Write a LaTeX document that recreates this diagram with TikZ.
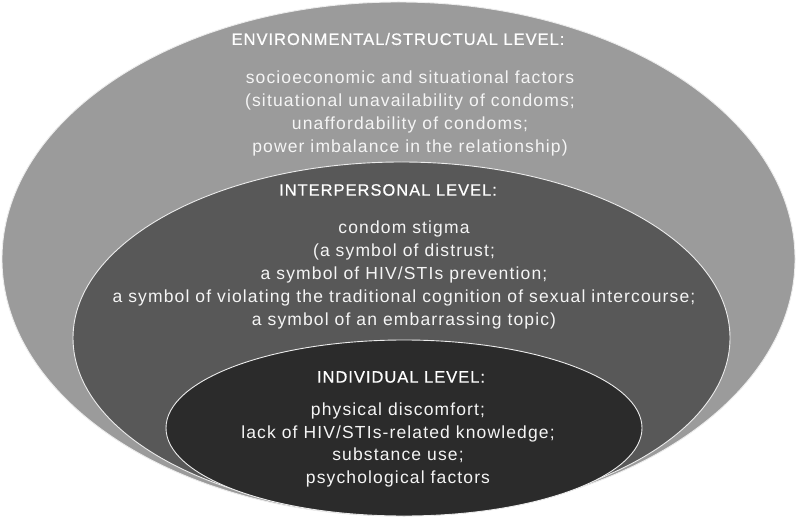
\documentclass[tikz,border=0pt]{standalone}
\usepackage{fontspec}
\setmainfont{Liberation Sans}
\newfontfamily\bodyfont[LetterSpace=6.5]{Liberation Sans}
\newfontfamily\hdfont[FakeBold=0.6,LetterSpace=6]{Liberation Sans}
\begin{document}
\begin{tikzpicture}[x=1pt,y=-1pt]
\tikzset{
  ring/.style={draw=white!85!gray, line width=0.9pt},
  hdtext/.style={text=white, font=\hdfont\fontsize{16.5}{19}\selectfont, inner sep=0pt},
  bodytext/.style={text=white!92!gray, font=\bodyfont\fontsize{17.5}{22.8}\selectfont, align=center, inner sep=0pt},
}
\useasboundingbox (0,0) rectangle (797,518);
\fill[white] (0,0) rectangle (797,518);
\path[ring, fill={rgb,255:red,155;green,155;blue,155}] (398.5,259) ellipse [x radius=396.5, y radius=257];
\path[ring, fill={rgb,255:red,88;green,88;blue,88}] (401.5,338) ellipse [x radius=328.5, y radius=176];
\path[ring, fill={rgb,255:red,43;green,43;blue,43}] (404,428) ellipse [x radius=238, y radius=88];
\node (envh) [hdtext] at (398,39) {ENVIRONMENTAL/STRUCTUAL LEVEL:};
\node (envb) [bodytext] at (410,113.5) {socioeconomic and situational factors\\(situational unavailability of condoms;\\unaffordability of condoms;\\power imbalance in the relationship)};
\node (inth) [hdtext] at (388,190) {INTERPERSONAL LEVEL:};
\node (intb) [bodytext] at (404,275) {condom stigma\\(a symbol of distrust;\\a symbol of HIV/STIs prevention;\\a symbol of violating the traditional cognition of sexual intercourse;\\a symbol of an embarrassing topic)};
\node (indh) [hdtext] at (401,377) {INDIVIDUAL LEVEL:};
\node (indb) [bodytext] at (398,445) {physical discomfort;\\lack of HIV/STIs-related knowledge;\\substance use;\\psychological factors};
\end{tikzpicture}
\end{document}
